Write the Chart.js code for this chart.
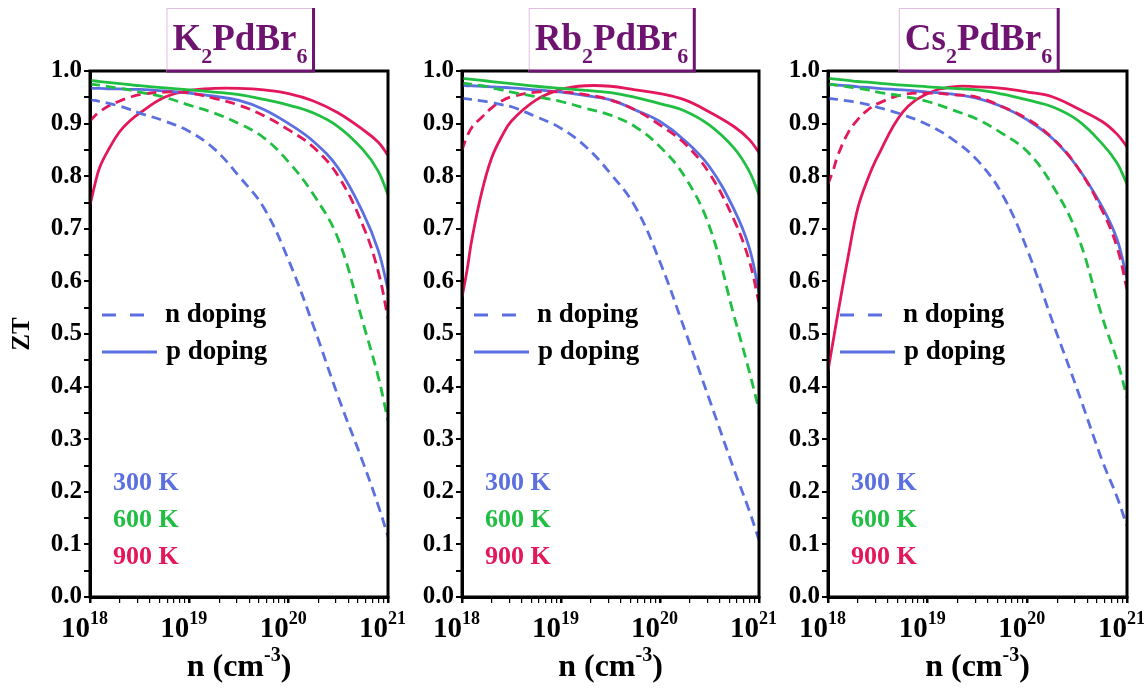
<!DOCTYPE html>
<html>
<head>
<meta charset="utf-8">
<script src="https://cdn.jsdelivr.net/npm/chart.js@4.4.0/dist/chart.umd.min.js"></script>
<style>
  html, body { margin: 0; padding: 0; background: #fff; }
  #wrap { position: relative; width: 1144px; height: 691px; }
  #wrap canvas { position: absolute; left: 0; top: 0; }
</style>
</head>
<body>
<div id="wrap">
  <canvas id="c1" width="1144" height="691"></canvas>
  <canvas id="c2" width="1144" height="691"></canvas>
  <canvas id="c3" width="1144" height="691"></canvas>
</div>
<script>
// carrier concentration, log10(n / cm^-3)
const exps = [18, 18.05, 18.1, 18.2, 18.3, 18.4, 18.5, 18.75, 19, 19.25, 19.5, 19.75, 20, 20.25, 20.5, 20.75, 20.9, 21];
const decades = [18, 19, 20, 21];
const temps = ['300 K', '600 K', '900 K'];

// K2PdBr6
const kN300 = [0.945, 0.944, 0.942, 0.938, 0.933, 0.927, 0.920, 0.905, 0.885, 0.852, 0.800, 0.740, 0.640, 0.515, 0.380, 0.255, 0.175, 0.115];
const kN600 = [0.975, 0.974, 0.973, 0.970, 0.967, 0.964, 0.960, 0.950, 0.935, 0.920, 0.900, 0.873, 0.827, 0.765, 0.680, 0.520, 0.420, 0.335];
const kN900 = [0.905, 0.915, 0.923, 0.935, 0.943, 0.950, 0.955, 0.960, 0.958, 0.948, 0.935, 0.915, 0.888, 0.855, 0.800, 0.705, 0.620, 0.530];
const kP300 = [0.968, 0.967, 0.967, 0.966, 0.966, 0.965, 0.965, 0.962, 0.958, 0.952, 0.944, 0.927, 0.900, 0.866, 0.815, 0.730, 0.660, 0.585];
const kP600 = [0.982, 0.981, 0.980, 0.978, 0.976, 0.974, 0.972, 0.968, 0.964, 0.960, 0.955, 0.946, 0.935, 0.920, 0.894, 0.850, 0.810, 0.765];
const kP900 = [0.745, 0.785, 0.818, 0.855, 0.885, 0.905, 0.920, 0.950, 0.963, 0.967, 0.967, 0.964, 0.957, 0.943, 0.920, 0.888, 0.865, 0.840];

// Rb2PdBr6
const rbN300 = [0.948, 0.947, 0.946, 0.943, 0.940, 0.936, 0.932, 0.913, 0.891, 0.856, 0.805, 0.742, 0.637, 0.508, 0.375, 0.241, 0.165, 0.108];
const rbN600 = [0.977, 0.976, 0.975, 0.972, 0.968, 0.964, 0.960, 0.951, 0.942, 0.929, 0.916, 0.894, 0.856, 0.799, 0.704, 0.533, 0.430, 0.355];
const rbN900 = [0.850, 0.875, 0.893, 0.912, 0.930, 0.943, 0.951, 0.960, 0.960, 0.955, 0.945, 0.926, 0.897, 0.862, 0.805, 0.716, 0.640, 0.560];
const rbP300 = [0.973, 0.972, 0.972, 0.971, 0.970, 0.969, 0.968, 0.964, 0.960, 0.953, 0.945, 0.926, 0.904, 0.868, 0.818, 0.736, 0.665, 0.580];
const rbP600 = [0.986, 0.985, 0.984, 0.982, 0.980, 0.978, 0.976, 0.971, 0.967, 0.963, 0.959, 0.950, 0.938, 0.924, 0.897, 0.853, 0.810, 0.765];
const rbP900 = [0.570, 0.620, 0.680, 0.770, 0.835, 0.875, 0.905, 0.945, 0.965, 0.972, 0.971, 0.964, 0.957, 0.945, 0.922, 0.894, 0.870, 0.845];

// Cs2PdBr6
const csN300 = [0.948, 0.947, 0.946, 0.943, 0.940, 0.936, 0.931, 0.917, 0.898, 0.870, 0.830, 0.765, 0.660, 0.525, 0.395, 0.260, 0.190, 0.135];
const csN600 = [0.975, 0.974, 0.973, 0.970, 0.967, 0.964, 0.960, 0.952, 0.942, 0.926, 0.908, 0.881, 0.847, 0.783, 0.690, 0.533, 0.450, 0.380];
const csN900 = [0.785, 0.810, 0.840, 0.882, 0.908, 0.926, 0.938, 0.955, 0.958, 0.955, 0.950, 0.932, 0.909, 0.873, 0.818, 0.735, 0.665, 0.585];
const csP300 = [0.975, 0.974, 0.973, 0.972, 0.970, 0.969, 0.967, 0.964, 0.960, 0.956, 0.948, 0.932, 0.907, 0.872, 0.818, 0.742, 0.680, 0.605];
const csP600 = [0.986, 0.985, 0.984, 0.982, 0.980, 0.979, 0.977, 0.973, 0.970, 0.967, 0.964, 0.956, 0.945, 0.932, 0.907, 0.862, 0.825, 0.785];
const csP900 = [0.430, 0.485, 0.540, 0.645, 0.740, 0.795, 0.838, 0.922, 0.957, 0.970, 0.970, 0.967, 0.960, 0.951, 0.929, 0.904, 0.880, 0.856];

const FONT = "'Liberation Serif', 'Times New Roman', serif";
const BLUE = '#5b6fe0', GREEN = '#20bf42', RED = '#e3175a', PURPLE = '#6e1470';
const tempColors = [BLUE, GREEN, RED];

function pts(arr) {
  return exps.map((e, i) => ({ x: Math.pow(10, e), y: arr[i] }));
}

function line(label, arr, color, dashed) {
  return {
    label: label,
    data: pts(arr),
    borderColor: color,
    backgroundColor: color,
    borderWidth: 2.8,
    borderDash: dashed ? [10, 6] : [],
    pointRadius: 0,
    tension: 0.4,
    fill: false
  };
}

// draws frame, title box, x labels, x title and the in-plot legend
const decor = {
  id: 'decor',
  afterDraw(chart, args, opts) {
    const ctx = chart.ctx;
    const a = chart.chartArea;
    const xs = chart.scales.x;
    ctx.save();

    ctx.strokeStyle = '#000';
    ctx.lineWidth = 3;
    ctx.strokeRect(a.left, a.top, a.right - a.left, a.bottom - a.top);

    // x tick labels 10^k
    ctx.fillStyle = '#000';
    ctx.textBaseline = 'alphabetic';
    decades.forEach(d => {
      const px = xs.getPixelForValue(Math.pow(10, d));
      ctx.font = 'bold 29px ' + FONT;
      ctx.textAlign = 'right';
      ctx.fillText('10', px, a.bottom + 40);
      ctx.font = 'bold 18px ' + FONT;
      ctx.textAlign = 'left';
      ctx.fillText(String(d), px, a.bottom + 27);
    });

    // x title n (cm^-3)
    ctx.textAlign = 'left';
    const big = 'bold 32px ' + FONT, small = 'bold 20px ' + FONT;
    ctx.font = big; const w1 = ctx.measureText('n (cm').width; const w3 = ctx.measureText(')').width;
    ctx.font = small; const w2 = ctx.measureText('-3').width;
    let tx = (a.left + a.right) / 2 - (w1 + w2 + w3) / 2;
    const ty = a.bottom + 79;
    ctx.font = big; ctx.fillText('n (cm', tx, ty); tx += w1;
    ctx.font = small; ctx.fillText('-3', tx, ty - 15); tx += w2;
    ctx.font = big; ctx.fillText(')', tx, ty);

    // title box
    const parts = opts.title;
    let tw = 0;
    parts.forEach(p => {
      ctx.font = p[1] ? 'bold 22px ' + FONT : 'bold 37px ' + FONT;
      tw += ctx.measureText(p[0]).width;
    });
    const bw = tw + 12;
    const bx = (a.left + a.right) / 2 - bw / 2 + 1;
    const by = 8;
    ctx.fillStyle = '#fff';
    ctx.fillRect(bx, by, bw, a.top - by);
    ctx.strokeStyle = '#e2bde2';
    ctx.lineWidth = 1;
    ctx.strokeRect(bx + 0.5, by + 0.5, bw, a.top - by);
    ctx.strokeStyle = PURPLE;
    ctx.lineWidth = 3;
    ctx.beginPath();
    ctx.moveTo(bx + bw, by);
    ctx.lineTo(bx + bw, a.top);
    ctx.lineTo(bx, a.top);
    ctx.stroke();
    ctx.fillStyle = PURPLE;
    let px = bx + 6;
    parts.forEach(p => {
      ctx.font = p[1] ? 'bold 22px ' + FONT : 'bold 37px ' + FONT;
      ctx.fillText(p[0], px, p[1] ? 63 : 50);
      px += ctx.measureText(p[0]).width;
    });

    // legend for line style
    const lx = a.left + 12;
    const l1 = a.top + 244, l2 = a.top + 281;
    ctx.strokeStyle = BLUE;
    ctx.lineWidth = 2.8;
    ctx.setLineDash([14, 14]);
    ctx.beginPath(); ctx.moveTo(lx, l1); ctx.lineTo(lx + 50, l1); ctx.stroke();
    ctx.setLineDash([]);
    ctx.beginPath(); ctx.moveTo(lx, l2); ctx.lineTo(lx + 55, l2); ctx.stroke();
    ctx.fillStyle = '#000';
    ctx.font = 'bold 27px ' + FONT;
    ctx.textBaseline = 'middle';
    ctx.fillText('n doping', lx + 63, l1);
    ctx.fillText('p doping', lx + 64, l2);

    // temperature labels
    ctx.font = 'bold 26px ' + FONT;
    temps.forEach((t, i) => {
      ctx.fillStyle = tempColors[i];
      ctx.fillText(t, a.left + 23, a.top + 412 + i * 37);
    });
    ctx.restore();
  }
};

function makePanel(id, title, left, right, showZT, s) {
  new Chart(document.getElementById(id), {
    type: 'line',
    data: {
      datasets: [
        line('n 300 K', s[0], BLUE, true),
        line('n 600 K', s[1], GREEN, true),
        line('n 900 K', s[2], RED, true),
        line('p 300 K', s[3], BLUE, false),
        line('p 600 K', s[4], GREEN, false),
        line('p 900 K', s[5], RED, false)
      ]
    },
    options: {
      responsive: false,
      animation: false,
      devicePixelRatio: 1,
      layout: { padding: { left: left - 90, right: 1144 - right, top: 71, bottom: 0 } },
      plugins: {
        legend: { display: false },
        tooltip: { enabled: false },
        decor: { title: title }
      },
      scales: {
        x: {
          type: 'logarithmic',
          min: 1e18,
          max: 1e21,
          afterBuildTicks(sc) {
            const t = [];
            for (let d = 18; d < 21; d++) {
              for (let m = 1; m < 10; m++) t.push({ value: m * Math.pow(10, d) });
            }
            t.push({ value: 1e21 });
            sc.ticks = t;
          },
          afterFit(sc) { sc.height = 94; },
          ticks: { display: false },
          grid: {
            drawOnChartArea: false,
            drawTicks: true,
            tickLength: 6,
            color: '#000',
            lineWidth: c => (c.tick && Math.abs(Math.log10(c.tick.value) % 1) < 1e-6) ? 2.5 : 1.2
          },
          border: { display: true, color: '#000', width: 3 }
        },
        y: {
          min: 0,
          max: 1,
          afterFit(sc) { sc.width = 90; },
          ticks: {
            stepSize: 0.05,
            autoSkip: false,
            color: '#000',
            padding: 2,
            font: { family: FONT, size: 25, weight: 'bold' },
            callback: v => Math.round(v * 100) % 10 === 0 ? v.toFixed(1) : ''
          },
          grid: { drawOnChartArea: false, drawTicks: true, tickLength: 6, color: '#000', lineWidth: 2 },
          border: { display: true, color: '#000', width: 3 },
          title: {
            display: showZT,
            text: 'ZT',
            color: '#000',
            padding: { top: 8, bottom: 0 },
            font: { family: FONT, size: 25, weight: 'bold' }
          }
        }
      }
    },
    plugins: [decor]
  });
}

makePanel('c1', [['K', 0], ['2', 1], ['PdBr', 0], ['6', 1]], 90, 388, true,
  [kN300, kN600, kN900, kP300, kP600, kP900]);
makePanel('c2', [['Rb', 0], ['2', 1], ['PdBr', 0], ['6', 1]], 462, 759, false,
  [rbN300, rbN600, rbN900, rbP300, rbP600, rbP900]);
makePanel('c3', [['Cs', 0], ['2', 1], ['PdBr', 0], ['6', 1]], 828, 1127, false,
  [csN300, csN600, csN900, csP300, csP600, csP900]);
</script>
</body>
</html>
